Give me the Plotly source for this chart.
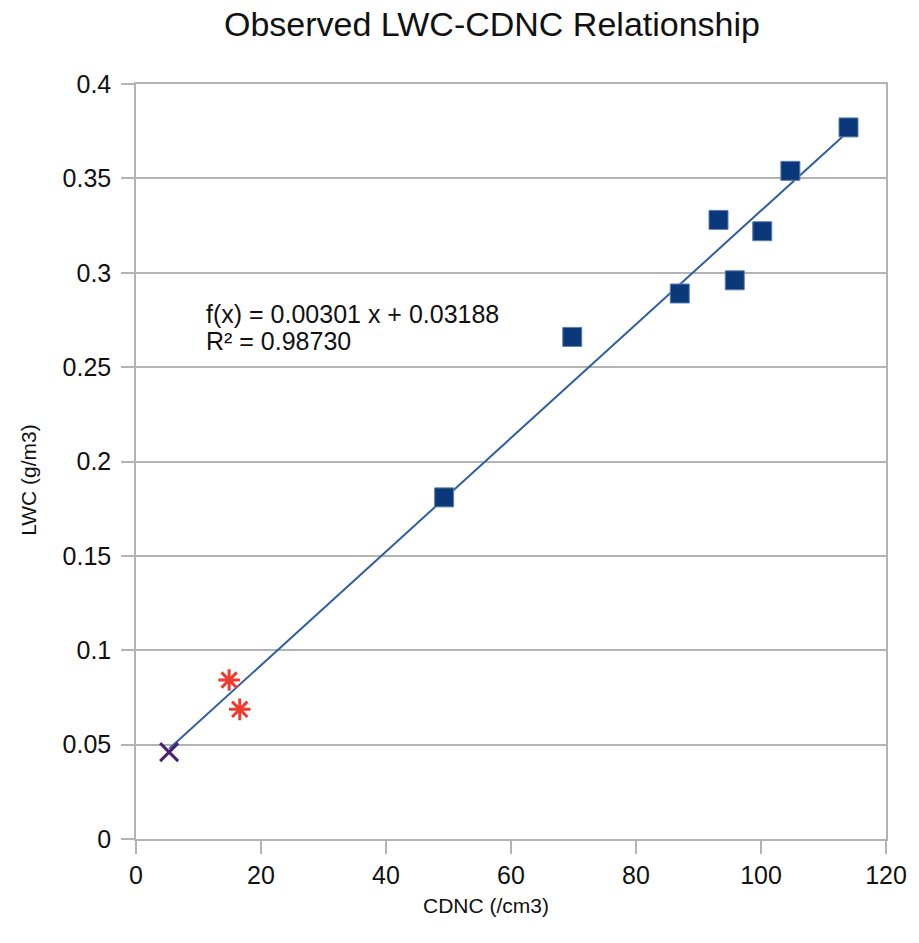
import plotly.graph_objects as go

# Observed data
cdnc_obs = [49.3, 69.8, 87.0, 93.2, 95.8, 100.2, 104.7, 114.0]
lwc_obs = [0.181, 0.266, 0.289, 0.328, 0.296, 0.322, 0.354, 0.377]

cdnc_red = [14.9, 16.6]
lwc_red = [0.0842, 0.0687]

cdnc_x = [5.3]
lwc_x = [0.046]

slope = 0.00301
intercept = 0.03188
r2_text = "0.98730"

x_ticks = [0, 20, 40, 60, 80, 100, 120]
y_ticks = [0, 0.05, 0.1, 0.15, 0.2, 0.25, 0.3, 0.35, 0.4]

fit_x = [min(cdnc_x + cdnc_obs), max(cdnc_obs)]
fit_y = [slope * v + intercept for v in fit_x]

FONT = "Liberation Sans, Arial, sans-serif"
TXT = "#111111"

fig = go.Figure()
fig.add_trace(go.Scatter(
    x=fit_x, y=fit_y, mode="lines",
    line=dict(color="#2f5f9e", width=2), hoverinfo="skip", showlegend=False))
fig.add_trace(go.Scatter(
    x=cdnc_obs, y=lwc_obs, mode="markers",
    marker=dict(symbol="square", size=19, color="#0b3878",
                line=dict(color="#5c7fae", width=1)),
    showlegend=False))
fig.add_trace(go.Scatter(
    x=cdnc_red, y=lwc_red, mode="markers",
    marker=dict(symbol="asterisk-open", size=18, color="#ee3a2f",
                line=dict(color="#ee3a2f", width=3)),
    showlegend=False))
fig.add_trace(go.Scatter(
    x=cdnc_x, y=lwc_x, mode="markers",
    marker=dict(symbol="x-thin-open", size=18, color="#4a2170",
                line=dict(color="#4a2170", width=3)),
    showlegend=False))

axis_common = dict(
    zeroline=False, showline=True, linecolor="#b3b3b3", linewidth=1.5, mirror=True,
    ticks="outside", ticklen=13, tickcolor="#b3b3b3", tickwidth=1.5,
    tickfont=dict(size=25, family=FONT, color=TXT))

fig.update_layout(
    width=919, height=943,
    margin=dict(l=136, r=27, t=84, b=104),
    paper_bgcolor="white", plot_bgcolor="white",
    font=dict(family=FONT, color=TXT),
    title=dict(text="Observed LWC-CDNC Relationship", x=492 / 919, xanchor="center",
               y=1 - 24 / 943, yanchor="middle",
               font=dict(size=34, family=FONT, color=TXT)),
    xaxis=dict(range=[0, 120], tickvals=x_ticks, ticktext=[str(v) for v in x_ticks],
               showgrid=False, **axis_common),
    yaxis=dict(range=[0, 0.4], tickvals=y_ticks, ticktext=[("%g" % v) for v in y_ticks],
               showgrid=True, gridcolor="#b3b3b3", gridwidth=1.5,
               ticklabelstandoff=5, **axis_common),
)

fig.add_annotation(text="CDNC (/cm3)", xref="paper", yref="paper",
                   x=(489 - 136) / (892 - 136), y=-(905 - 839) / (839 - 84),
                   xanchor="center", yanchor="middle", showarrow=False,
                   font=dict(size=21, family=FONT, color=TXT))
fig.add_annotation(text="LWC (g/m3)", xref="paper", yref="paper",
                   x=-(136 - 27) / (892 - 136), y=(839 - 480) / (839 - 84),
                   xanchor="center", yanchor="middle", showarrow=False, textangle=-90,
                   font=dict(size=21, family=FONT, color=TXT))
fig.add_annotation(text=f"f(x) = {slope:.5f} x + {intercept:.5f}",
                   xref="paper", yref="paper",
                   x=(205 - 136) / (892 - 136), y=(839 - 314) / (839 - 84),
                   xanchor="left", yanchor="middle", align="left", showarrow=False,
                   font=dict(size=25, family=FONT, color=TXT))
fig.add_annotation(text=f"R² = {r2_text}",
                   xref="paper", yref="paper",
                   x=(205 - 136) / (892 - 136), y=(839 - 341) / (839 - 84),
                   xanchor="left", yanchor="middle", align="left", showarrow=False,
                   font=dict(size=25, family=FONT, color=TXT))

fig.write_html("out.html")
